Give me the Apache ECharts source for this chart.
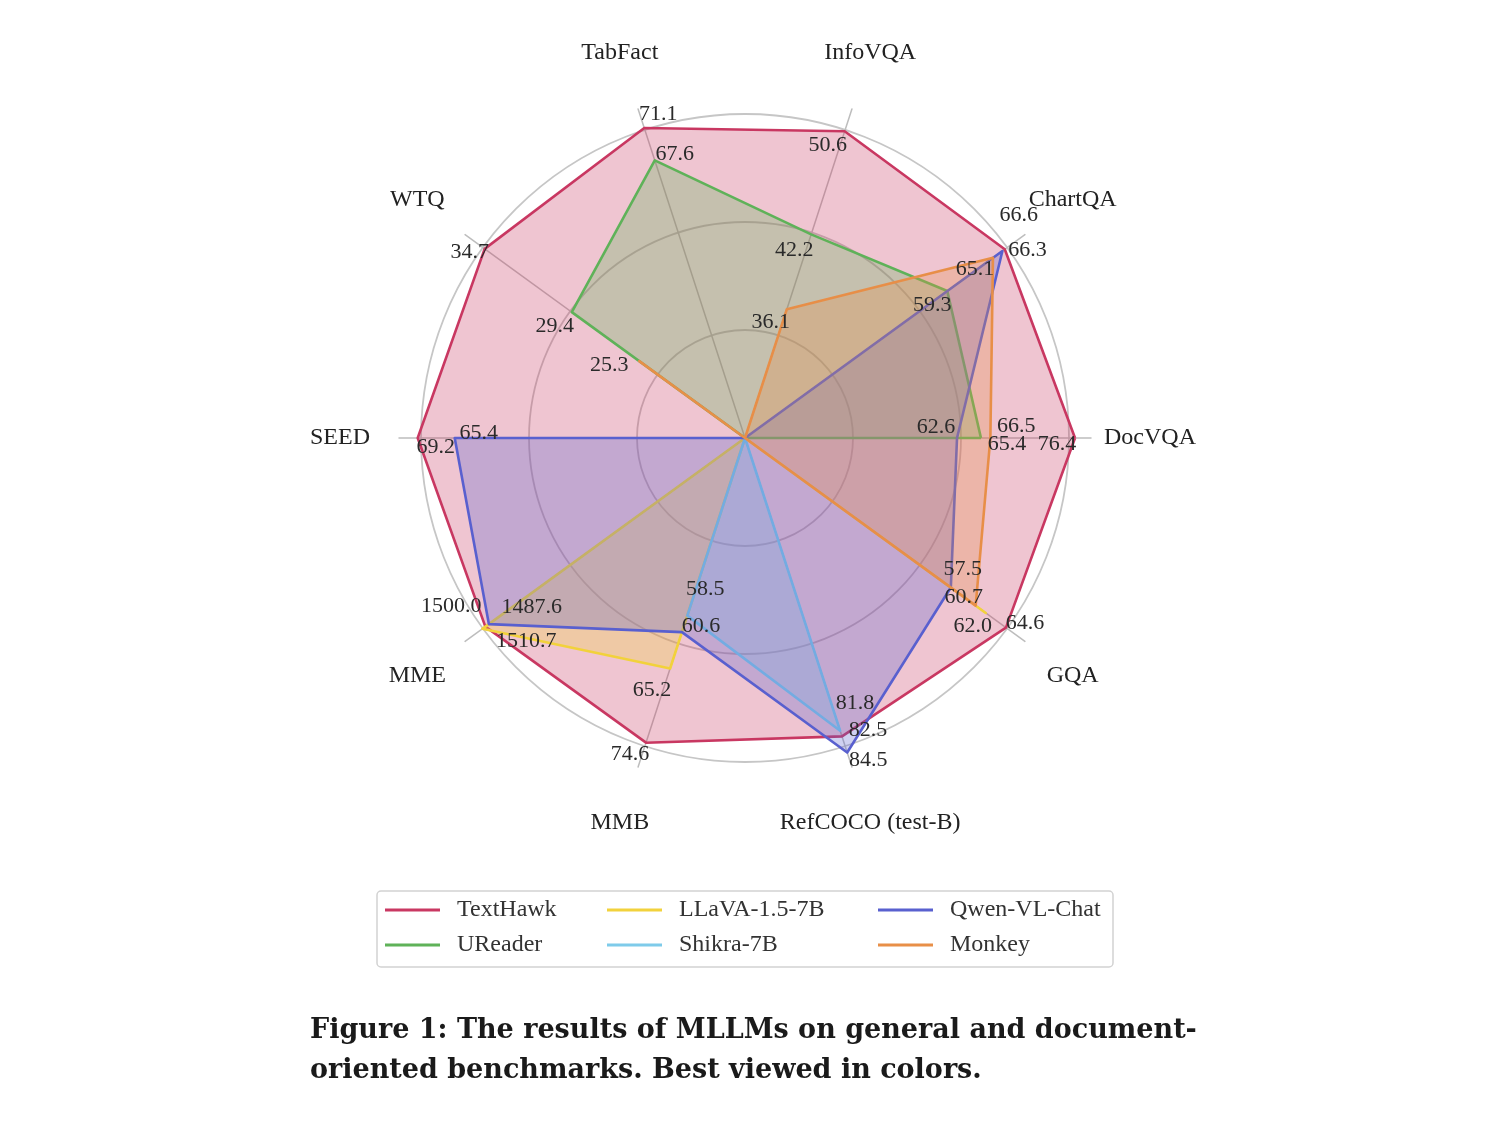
<!DOCTYPE html>
<html>
<head>
<meta charset="utf-8">
<title>MLLM radar</title>
<script src="https://cdn.jsdelivr.net/npm/echarts@6/dist/echarts.min.js"></script>
<style>
  html, body { margin: 0; padding: 0; background: #fff; }
  #container { width: 1500px; height: 1125px; }
</style>
</head>
<body>
<div id="container"></div>
<script type="text/javascript">
// benchmarks (axes), counter-clockwise from the right
var indicators = ['DocVQA', 'ChartQA', 'InfoVQA', 'TabFact', 'WTQ', 'SEED', 'MME', 'MMB', 'RefCOCO (test-B)', 'GQA'];
// per-axis scale range
var axisMin = [37.8, 33.6, 25.6, 37.5, 18.87, 35.6, 583, 36.0, 45.6, 31.0];
var axisMax = [78.27, 69.16, 52.42, 73.17, 35.89, 71.12, 1571.6, 77.69, 86.3, 67.04];

// scores, null = not reported (drawn at centre)
var textHawk = [76.4, 66.6, 50.6, 71.1, 34.7, 69.2, 1500.0, 74.6, 82.5, 64.6];
var uReader  = [65.4, 59.3, 42.2, 67.6, 29.4, null, null, null, null, null];
var llava    = [null, null, null, null, null, null, 1510.7, 65.2, null, 62.0];
var shikra   = [null, null, null, null, null, null, null, 58.5, 81.8, null];
var qwen     = [62.6, 66.3, null, null, null, 65.4, 1487.6, 60.6, 84.5, 57.5];
var monkey   = [66.5, 65.1, 36.1, null, 25.3, null, null, null, null, 60.7];

var seriesNames = ['TextHawk', 'UReader', 'LLaVA-1.5-7B', 'Shikra-7B', 'Qwen-VL-Chat', 'Monkey'];
var seriesData = [textHawk, uReader, llava, shikra, qwen, monkey];
var colors = ['#c93862', '#5fb259', '#f2d23c', '#7ecbea', '#5960cf', '#e88f48'];

// value label offsets (px) from the point, per series / axis
var labelOffsets = {
  'TextHawk':     [[-18, 6], [14, -34], [-17, 14], [14, -14], [-15, 3], [18, 9], [-34, -20], [-16, 12], [26, -6], [19, -4]],
  'UReader':      [[26, 6], [-15, 14], [-17, 16], [20, -6], [-17, 14], null, null, null, null, null],
  'LLaVA-1.5-7B': [null, null, null, null, null, null, [44, 12], [-18, 22], null, [-13, 13]],
  'Shikra-7B':    [null, null, null, null, null, null, null, [18, -26], [15, -27], null],
  'Qwen-VL-Chat': [[-21, -11], [25, -1], null, null, null, [24, -5], [43, -17], [19, -6], [21, 8], [12, -18]],
  'Monkey':       [[26, -12], [-18, 11], [-16, 13], null, [-30, 4], null, null, null, null, [-12, -8]]
};

var serif = '"Liberation Serif", "Times New Roman", serif';
var cx = 745, cy = 438;

var dom = document.getElementById('container');
var myChart = echarts.init(dom, null, { renderer: 'canvas' });

var series = [];
for (var s = 0; s < seriesNames.length; s++) {
  series.push({
    name: seriesNames[s],
    type: 'radar',
    radarIndex: 0,
    symbol: 'none',
    silent: true,
    color: colors[s],
    itemStyle: { color: colors[s] },
    lineStyle: { color: colors[s], width: 2.6 },
    areaStyle: { color: colors[s], opacity: 0.29 },
    data: [{ name: seriesNames[s], value: seriesData[s].map(function (v) { return v == null ? '-' : v; }) }]
  });
}

// one invisible item per value label so each label can sit where it does in the figure
var labelItems = [];
seriesNames.forEach(function (name, s) {
  seriesData[s].forEach(function (v, i) {
    if (v == null) return;
    var vals = indicators.map(function (_, j) { return j === i ? v : null; });
    labelItems.push({ value: vals, label: { offset: labelOffsets[name][i] } });
  });
});
series.push({
  name: 'labels',
  type: 'radar',
  radarIndex: 0,
  silent: true,
  z: 10,
  symbol: 'circle',
  symbolSize: 2,
  itemStyle: { color: 'rgba(0,0,0,0)' },
  lineStyle: { width: 0, opacity: 0 },
  label: {
    show: true,
    position: 'inside',
    color: '#2a2a2a',
    fontFamily: serif,
    fontSize: 22,
    formatter: function (p) {
      return typeof p.value === 'number' ? p.value.toFixed(1) : '';
    }
  },
  data: labelItems
});

// axis names, centred on a ring outside the plot
var graphics = [];
indicators.forEach(function (name, i) {
  var a = i * Math.PI * 2 / indicators.length;
  graphics.push({
    type: 'text',
    x: cx + 405 * Math.cos(a),
    y: cy - 405 * Math.sin(a),
    style: {
      text: name, fill: '#222', font: '24px ' + serif,
      textAlign: 'center', textVerticalAlign: 'middle'
    }
  });
});
// legend frame
graphics.push({
  type: 'rect',
  shape: { x: 377, y: 891, width: 736, height: 76, r: 4 },
  style: { fill: 'none', stroke: '#d2d2d2', lineWidth: 1.5 },
  z: -1
});
// caption
graphics.push({
  type: 'text', x: 310, y: 1031,
  style: { text: 'Figure 1: The results of MLLMs on general and document-', fill: '#1a1a1a',
           font: 'bold 27px "DejaVu Serif", serif', textVerticalAlign: 'middle' }
});
graphics.push({
  type: 'text', x: 310, y: 1071,
  style: { text: 'oriented benchmarks. Best viewed in colors.', fill: '#1a1a1a',
           font: 'bold 27px "DejaVu Serif", serif', textVerticalAlign: 'middle' }
});

function legendCol(left, names) {
  return {
    orient: 'vertical',
    left: left,
    top: 898,
    padding: 0,
    itemGap: 11,
    itemWidth: 55,
    itemHeight: 3,
    icon: 'rect',
    selectedMode: false,
    data: names,
    itemStyle: { borderWidth: 0 },
    textStyle: { fontFamily: serif, fontSize: 24, color: '#333', lineHeight: 24, padding: [0, 0, 0, 12] }
  };
}

var option = {
  backgroundColor: '#fff',
  animation: false,
  legend: [
    legendCol(385, ['TextHawk', 'UReader']),
    legendCol(607, ['LLaVA-1.5-7B', 'Shikra-7B']),
    legendCol(878, ['Qwen-VL-Chat', 'Monkey'])
  ],
  radar: [
    {
      center: [cx, cy],
      radius: 346,
      startAngle: 0,
      splitNumber: 3,
      shape: 'circle',
      indicator: indicators.map(function (n, i) { return { name: n, min: axisMin[i], max: axisMax[i] }; }),
      axisName: { show: false },
      axisLine: { lineStyle: { color: '#bdbdbd', width: 1.5 } },
      splitLine: { show: false },
      splitArea: { show: false }
    },
    {
      center: [cx, cy],
      radius: 324,
      startAngle: 0,
      splitNumber: 3,
      shape: 'circle',
      indicator: indicators.map(function (n) { return { name: n, min: 0, max: 3 }; }),
      axisName: { show: false },
      axisLine: { show: false },
      splitLine: { lineStyle: { color: '#c6c6c6', width: 1.8 } },
      splitArea: { show: false }
    }
  ],
  graphic: graphics,
  series: series
};

myChart.setOption(option);
</script>
</body>
</html>
